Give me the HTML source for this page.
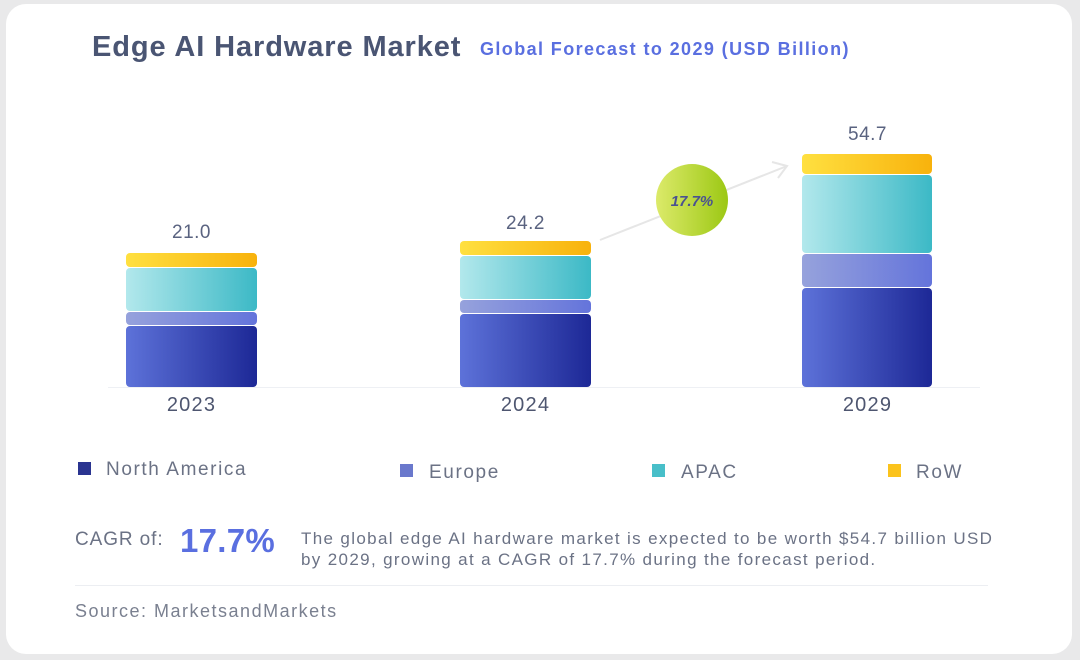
<!DOCTYPE html>
<html><head><style>
body{margin:0;width:1080px;height:660px;background:#e9e9ea;font-family:"Liberation Sans",sans-serif;position:relative;overflow:hidden}
.card{position:absolute;left:6px;top:4px;width:1066px;height:650px;background:#fff;border-radius:20px}
.a{position:absolute;white-space:nowrap}
.seg{position:absolute;border-radius:4px}
.ry{background:linear-gradient(90deg,#ffe040,#f8b20c)}
.ap{background:linear-gradient(90deg,#b2e8ec,#3cb9c6)}
.eu{background:linear-gradient(90deg,#96a2dc,#6474db)}
.na{background:linear-gradient(90deg,#5d72d9,#1d2896)}
.v{color:#5a6380;font-size:19px;text-align:center;width:131px;letter-spacing:0.5px}
.y{color:#4e5670;font-size:20px;text-align:center;width:131px;letter-spacing:1.2px}
.lg{color:#6b7285;font-size:19px;letter-spacing:1.6px}
.sq{position:absolute;width:13px;height:13px}
</style></head><body>
<div class="card"></div>
<div class="a" style="left:92px;top:31px;font-size:29px;font-weight:bold;color:#4a5573;letter-spacing:0.9px">Edge AI Hardware Market</div>
<div class="a" style="left:480px;top:39px;font-size:18px;font-weight:bold;color:#5a6fe0;letter-spacing:1.4px">Global Forecast to 2029 (USD Billion)</div>
<div class="a" style="left:108px;top:387px;width:872px;height:1px;background:#eef0f4"></div>
<div class="seg ry" style="left:126px;top:253px;width:131px;height:14px"></div>
<div class="seg ap" style="left:126px;top:268px;width:131px;height:43px"></div>
<div class="seg eu" style="left:126px;top:312px;width:131px;height:13px"></div>
<div class="seg na" style="left:126px;top:326px;width:131px;height:61px"></div>
<div class="a v" style="left:126px;top:222px">21.0</div>
<div class="a y" style="left:126px;top:394px">2023</div>
<div class="seg ry" style="left:460px;top:241px;width:131px;height:14px"></div>
<div class="seg ap" style="left:460px;top:256px;width:131px;height:43px"></div>
<div class="seg eu" style="left:460px;top:300px;width:131px;height:13px"></div>
<div class="seg na" style="left:460px;top:314px;width:131px;height:73px"></div>
<div class="a v" style="left:460px;top:213px">24.2</div>
<div class="a y" style="left:460px;top:394px">2024</div>
<div class="seg ry" style="left:802px;top:154px;width:130px;height:20px"></div>
<div class="seg ap" style="left:802px;top:175px;width:130px;height:78px"></div>
<div class="seg eu" style="left:802px;top:254px;width:130px;height:33px"></div>
<div class="seg na" style="left:802px;top:288px;width:130px;height:99px"></div>
<div class="a v" style="left:802px;top:124px">54.7</div>
<div class="a y" style="left:802px;top:394px">2029</div>
<svg class="a" style="left:0;top:0" width="1080" height="660">
<line x1="600" y1="240" x2="787" y2="166" stroke="#e6e6e6" stroke-width="2"/>
<polyline points="772,162 787,166 778,178" fill="none" stroke="#e6e6e6" stroke-width="2"/>
<defs><linearGradient id="g" x1="0" x2="1"><stop offset="0" stop-color="#dcea6a"/><stop offset="1" stop-color="#9cc814"/></linearGradient></defs>
<circle cx="692" cy="200" r="36" fill="url(#g)"/>
<text x="692" y="206" text-anchor="middle" font-family="Liberation Sans" font-size="15" font-weight="bold" font-style="italic" fill="#4a5290">17.7%</text>
</svg>
<div class="sq" style="left:78px;top:462px;background:#2a3490"></div><div class="a lg" style="left:106px;top:459px">North America</div>
<div class="sq" style="left:400px;top:464px;background:#6a78cc"></div><div class="a lg" style="left:429px;top:462px">Europe</div>
<div class="sq" style="left:652px;top:464px;background:#48bfc9"></div><div class="a lg" style="left:681px;top:462px">APAC</div>
<div class="sq" style="left:888px;top:464px;background:#fbc31c"></div><div class="a lg" style="left:916px;top:462px">RoW</div>
<div class="a" style="left:75px;top:529px;font-size:19px;color:#6b7285;letter-spacing:0.9px">CAGR of:</div>
<div class="a" style="left:180px;top:522px;font-size:33px;font-weight:bold;color:#5a6fe0;letter-spacing:0.3px">17.7%</div>
<div class="a" style="left:301px;top:528px;font-size:17px;line-height:21px;color:#6b7285;letter-spacing:1.35px">The global edge AI hardware market is expected to be worth $54.7 billion USD<br>by 2029, growing at a CAGR of 17.7% during the forecast period.</div>
<div class="a" style="left:75px;top:585px;width:913px;height:1px;background:#eceef2"></div>
<div class="a" style="left:75px;top:601px;font-size:18px;color:#7a8090;letter-spacing:1.5px">Source: MarketsandMarkets</div>
</body></html>
